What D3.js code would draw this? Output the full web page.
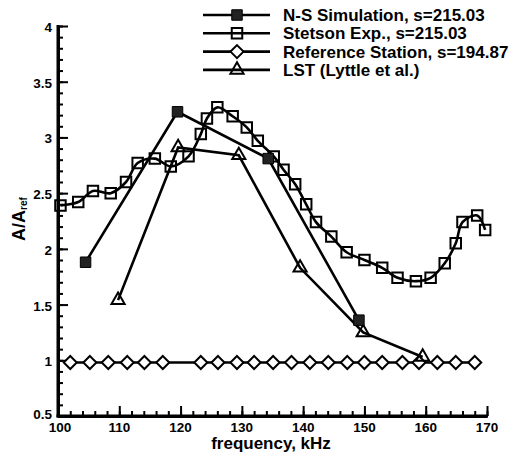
<!DOCTYPE html>
<html><head><meta charset="utf-8">
<script src="https://cdn.jsdelivr.net/npm/d3@7"></script>
<style>body{margin:0;background:#fff}svg{display:block}text{font-family:"Liberation Sans",Arial,sans-serif;font-weight:bold;fill:#000}</style>
</head><body><svg id="c" width="520" height="457"></svg>
<script>
const nsFreq = [104.5, 119.5, 134.3, 149.1];
const nsVal  = [1.88, 3.23, 2.81, 1.36];
const stFreq = [100.4,103.3,105.7,108.6,111.1,113.0,115.8,118.4,121.3,123.3,124.3,126.0,128.5,130.8,132.6,135.2,136.8,138.7,140.5,142.1,144.6,147.1,150.0,152.9,155.4,158.4,160.8,163.1,164.9,166.0,168.4,169.7];
const stVal  = [2.39,2.42,2.52,2.50,2.60,2.77,2.81,2.74,2.83,3.03,3.17,3.27,3.19,3.09,2.97,2.83,2.71,2.58,2.40,2.24,2.11,1.97,1.90,1.83,1.74,1.71,1.74,1.87,2.05,2.24,2.30,2.17];
const refFreq = [102.0,105.2,108.2,111.3,114.1,117.1,123.3,126.1,129.2,132.0,135.1,138.1,141.1,144.1,147.2,150.0,152.9,156.2,158.9,161.9,164.9,168.0];
const refVal  = [0.98,0.98,0.98,0.98,0.98,0.98,0.98,0.98,0.98,0.98,0.98,0.98,0.98,0.98,0.98,0.98,0.98,0.98,0.98,0.98,0.98,0.98];
const lstFreq = [109.8, 119.6, 129.5, 139.5, 149.8, 159.5];
const lstVal  = [1.54, 2.91, 2.84, 1.83, 1.25, 1.03];
const xTicks = [100,110,120,130,140,150,160,170];
const yTicks = [0.5,1,1.5,2,2.5,3,3.5,4];
const legendLabels = ["N-S Simulation, s=215.03","Stetson Exp., s=215.03","Reference Station, s=194.87","LST (Lyttle et al.)"];

const svg = d3.select("#c");
const x = d3.scaleLinear().domain([100,170]).range([58,487]);
const y = d3.scaleLinear().domain([0.5,4]).range([416,26]);

// axes
const xMinor = d3.range(100,170.01,2);
const yMinor = d3.range(0.5,4.001,0.1);
const gx = svg.append("g").attr("transform","translate(0,416)");
gx.call(d3.axisBottom(x).tickValues(xMinor).tickSizeInner(-5).tickSizeOuter(0).tickFormat(""));
gx.append("g").call(d3.axisBottom(x).tickValues(xTicks).tickSizeInner(-10).tickSizeOuter(0).tickFormat(""));
const gy = svg.append("g").attr("transform","translate(58,0)");
gy.call(d3.axisLeft(y).tickValues(yMinor).tickSizeInner(-5).tickSizeOuter(0).tickFormat(""));
gy.append("g").call(d3.axisLeft(y).tickValues(yTicks).tickSizeInner(-10).tickSizeOuter(0).tickFormat(""));
svg.selectAll(".tick line").attr("stroke","#000").attr("stroke-width",2);
svg.selectAll(".domain").attr("stroke","#000").attr("stroke-width",3);
gx.select(".domain").attr("d","M56.5,0H488");
gy.select(".domain").attr("d","M0,25H0V417.5");

svg.append("g").selectAll("text").data(xTicks).join("text")
  .attr("x",d=>x(d)+(d===100?2:0)).attr("y",432).attr("text-anchor","middle").attr("font-size",13.5).text(d=>d);
svg.append("g").selectAll("text").data(yTicks).join("text")
  .attr("x",52).attr("y",d=>y(d)+(d===0.5?3:6)).attr("text-anchor","end").attr("font-size",13.5).text(d=>d);

svg.append("text").attr("x",271).attr("y",449).attr("text-anchor","middle").attr("font-size",17).text("frequency, kHz");
const yt = svg.append("text").attr("transform","translate(25,219) rotate(-90)").attr("text-anchor","middle").attr("font-size",18);
yt.append("tspan").text("A/A");
yt.append("tspan").attr("font-size",10).attr("dy",2).text("ref");

// series
const lineG = svg.append("g").attr("fill","none").attr("stroke","#000").attr("stroke-width",2.6);
const zip = (a,b)=>a.map((v,i)=>[v,b[i]]);
const straight = d3.line().x(d=>x(d[0])).y(d=>y(d[1]));
const smooth = d3.line().x(d=>x(d[0])).y(d=>y(d[1])).curve(d3.curveCatmullRom);
lineG.append("path").attr("d",straight(zip(refFreq,refVal)));
lineG.append("path").attr("d",straight(zip(lstFreq,lstVal)));
lineG.append("path").attr("d",smooth(zip(stFreq,stVal)));
lineG.append("path").attr("d",straight(zip(nsFreq,nsVal)));

const sq = d3.symbol(d3.symbolSquare,110)();
const dia = "M0,-6.5L6.5,0L0,6.5L-6.5,0Z";
const tri = d3.symbol(d3.symbolTriangle,75)();
function marks(data,path,fill,sw){
  svg.append("g").selectAll("path").data(data).join("path")
    .attr("transform",d=>`translate(${x(d[0])},${y(d[1])})`)
    .attr("d",path).attr("fill",fill).attr("stroke","#000").attr("stroke-width",sw);
}
marks(zip(refFreq,refVal),dia,"#fff",2);
marks(zip(lstFreq,lstVal),tri,"none",2);
marks(zip(stFreq,stVal),sq,"none",2);
marks(zip(nsFreq,nsVal),sq,"#222",1);

// legend
const legPaths = [[sq,"#222",1],[sq,"none",2],[dia,"#fff",2],[tri,"none",2]];
const lg = svg.append("g");
legendLabels.forEach((lab,i)=>{
  const yy = 15 + i*18.3;
  lg.append("line").attr("x1",203).attr("x2",270).attr("y1",yy).attr("y2",yy).attr("stroke","#000").attr("stroke-width",2.6);
  lg.append("path").attr("transform",`translate(237,${yy})`).attr("d",legPaths[i][0]).attr("fill",legPaths[i][1]).attr("stroke","#000").attr("stroke-width",legPaths[i][2]);
  lg.append("text").attr("x",283).attr("y",yy+6).attr("font-size",17).text(lab);
});
</script></body></html>
